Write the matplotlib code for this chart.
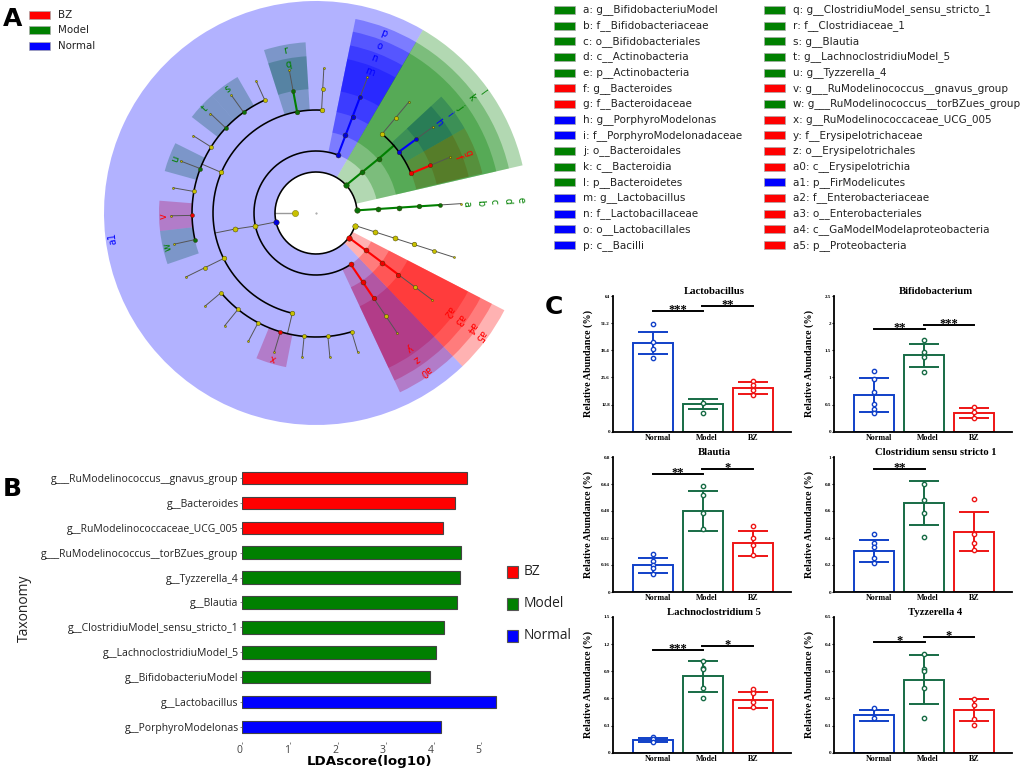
import numpy as np
import matplotlib
matplotlib.use("Agg")
import matplotlib.pyplot as plt
from matplotlib.patches import Rectangle

W, H = 1024, 771
RED, GREEN, BLUE = "#ff0000", "#008000", "#0000ff"
C_BLUE, C_GREEN, C_RED = "#1040c8", "#176b45", "#ee1515"
CLADE = {"r": RED, "g": GREEN, "b": BLUE}
NODE = {"r": "#ee0000", "g": "#0a700a", "b": "#0000dd", "y": "#c8c000"}

# panel A, legend
group_names = ["BZ", "Model", "Normal"]
group_colors = [RED, GREEN, BLUE]

taxon_labels_1 = ["a: g__BifidobacteriuModel", "b: f__Bifidobacteriaceae", "c: o__Bifidobacteriales",
                  "d: c__Actinobacteria", "e: p__Actinobacteria", "f: g__Bacteroides", "g: f__Bacteroidaceae",
                  "h: g__PorphyroModelonas", "i: f__PorphyroModelonadaceae", "j: o__Bacteroidales",
                  "k: c__Bacteroidia", "l: p__Bacteroidetes", "m: g__Lactobacillus", "n: f__Lactobacillaceae",
                  "o: o__Lactobacillales", "p: c__Bacilli"]
taxon_groups_1 = "gggggrrbbgggbbbb"
taxon_labels_2 = ["q: g__ClostridiuModel_sensu_stricto_1", "r: f__Clostridiaceae_1", "s: g__Blautia",
                  "t: g__LachnoclostridiuModel_5", "u: g__Tyzzerella_4", "v: g___RuModelinococcus__gnavus_group",
                  "w: g___RuModelinococcus__torBZues_group", "x: g__RuModelinococcaceae_UCG_005",
                  "y: f__Erysipelotrichaceae", "z: o__Erysipelotrichales", "a0: c__Erysipelotrichia",
                  "a1: p__FirModelicutes", "a2: f__Enterobacteriaceae", "a3: o__Enterobacteriales",
                  "a4: c__GaModelModelaproteobacteria", "a5: p__Proteobacteria"]
taxon_groups_2 = "gggggrgrrrrbrrrr"

# panel A, cladogram: radii by level, angles in degrees
node_radius = [41, 62, 83, 103, 124, 145]
band_inner = [41, 62, 82, 103, 124]
band_outer = [212, 198, 185, 171, 157]
node_px = [5.5, 5, 5, 4.7, 4, 2]

# start angle, end angle, clade, level
wedges = [(59.7, 313.7, "b", 0),
          (13, 59.7, "g", 0), (13, 59.7, "g", 1), (13, 59.7, "g", 2),
          (29.7, 42.9, "b", 3), (29.7, 42.9, "b", 4), (13.4, 29.7, "r", 3), (13.4, 29.7, "r", 4),
          (59.6, 78.5, "b", 1), (59.6, 78.5, "b", 2), (59.6, 78.5, "b", 3), (59.6, 78.5, "b", 4),
          (-46.3, -27.3, "r", 0), (-46.3, -27.3, "r", 1), (-46.3, -27.3, "r", 2), (-46.3, -27.3, "r", 3),
          (-64.9, -46.3, "r", 1), (-64.9, -46.3, "r", 2), (-64.9, -46.3, "r", 3),
          (93.5, 107.7, "g", 3), (93.5, 107.7, "g", 4),
          (120, 131.5, "g", 4), (131.5, 142.3, "g", 4), (153.6, 164.5, "g", 4),
          (175.5, 186.6, "r", 4), (186.6, 199, "g", 4), (247.7, 259, "r", 4)]

# radius, start angle, end angle
arcs = [(41, 3.7, 342.2), (62, 69.2, 304.1), (103, 22.6, 50.1), (103, 86.9, 256.7),
        (124, 114.4, 192.4), (124, 220, 286.7)]

# first level, angle or angles, clade code per level ("." is a joint with no node)
branches = [(0, 3.7, "gggggy"), (0, -17.8, "yyyyyy"), (0, -36.8, "rrrryy"), (1, -55.9, "rrryy"),
            (1, 69.2, "bbbby"), (0, [42.7, 41.5, 40.9, 40.9], "ggg."),
            (3, 50.1, "yyy"), (3, 36.4, "bby"), (3, 22.6, "rry"),
            (0, [192.6, 192.1, 191.2, 191.2], "byy."),
            (3, 100.6, "ggy"), (3, 86.9, "yyy"), (3, 206.2, "yyy"),
            (3, 156.8, "y."), (3, 256.7, "y."),
            (4, 114.4, "yy"), (4, 125.7, "gy"), (4, 136.7, "gy"), (4, 147.8, "yy"), (4, 159, "gy"),
            (4, 170, "yy"), (4, 181.1, "ry"), (4, 192.4, "gy"),
            (4, 220, "yy"), (4, 231, "yy"), (4, 242.2, "yy"), (4, 253.3, "ry"), (4, 264.5, "yy"),
            (4, 275.5, "yy"), (4, 286.7, "yy")]

clade_labels = ["a", "b", "c", "d", "e", "f", "g", "h", "i", "j", "k", "l", "m", "n", "o", "p", "q", "r",
                "s", "t", "u", "v", "w", "x", "y", "z", "a0", "a1", "a2", "a3", "a4", "a5"]
clade_label_groups = "gggggrrbbgggbbbbgggggrgrrrrbrrrr"
clade_label_theta = [3.6, 3.6, 3.6, 3.6, 3.6, 21.3, 21.4, 36.3, 36.3, 36.4, 36.6, 36.0, 69.2, 69.2, 69.2, 69.2,
                     100.6, 100.8, 125.6, 136.8, 159, 181.2, 193, 253.4, -55.3, -55.4, -55.3, 187,
                     -36.6, -36.7, -36.6, -36.8]
clade_label_r = [151, 165, 178, 192, 205, 153, 164, 152, 166, 179, 193, 206, 151, 165, 178, 192,
                 151, 165, 152, 152, 151, 152, 152, 151, 164, 177, 192, 205, 165, 178, 193, 205]

# panel B
lda_taxa = ["g___RuModelinococcus__gnavus_group", "g__Bacteroides", "g__RuModelinococcaceae_UCG_005",
            "g___RuModelinococcus__torBZues_group", "g__Tyzzerella_4", "g__Blautia",
            "g__ClostridiuModel_sensu_stricto_1", "g__LachnoclostridiuModel_5", "g__BifidobacteriuModel",
            "g__Lactobacillus", "g__PorphyroModelonas"]
lda_scores = [4.70, 4.45, 4.20, 4.58, 4.56, 4.49, 4.22, 4.04, 3.93, 5.30, 4.16]
lda_groups = "rrrggggggbb"

# panel C
abundance_groups = ["Normal", "Model", "BZ"]
abundance_titles = ["Lactobacillus", "Bifidobacterium", "Blautia", "Clostridium sensu stricto 1",
                    "Lachnoclostridium 5", "Tyzzerella 4"]
abundance_ticks = [["0", "12.8", "25.6", "38.4", "51.2", "64"], ["0", "0.5", "1", "1.5", "2", "2.5"],
                   ["0", "0.16", "0.32", "0.48", "0.64", "0.8"], ["0", "0.2", "0.4", "0.6", "0.8", "1"],
                   ["0", "0.3", "0.6", "0.9", "1.2", "1.5"], ["0", "0.1", "0.2", "0.3", "0.4", "0.5"]]
bar_tops = [[42.0, 13.05, 20.8], [0.68, 1.41, 0.344], [0.16, 0.482, 0.288],
            [0.306, 0.657, 0.447], [0.14, 0.844, 0.586], [0.138, 0.269, 0.157]]
err_low = [[36.6, 10.7, 17.8], [0.37, 1.2, 0.258], [0.1126, 0.361, 0.215],
           [0.22, 0.494, 0.301], [0.118, 0.667, 0.494], [0.115, 0.178, 0.117]]
err_high = [[47.2, 15.25, 23.3], [0.995, 1.615, 0.43], [0.203, 0.60, 0.36],
            [0.385, 0.822, 0.59], [0.158, 1.01, 0.675], [0.157, 0.36, 0.198]]
sample_points = [
    [[50.9, 42.5, 39.2, 34.9], [13.7, 9.0], [24, 22, 19.7, 17.3]],
    [[1.12, 0.965, 0.725, 0.51, 0.41, 0.35], [1.69, 1.46, 1.375, 1.105], [0.46, 0.37, 0.25]],
    [[0.225, 0.182, 0.16, 0.142, 0.105], [0.626, 0.577, 0.468, 0.373], [0.392, 0.32, 0.278, 0.221]],
    [[0.427, 0.365, 0.331, 0.254, 0.217], [0.802, 0.681, 0.587, 0.407], [0.687, 0.427, 0.36, 0.311]],
    [[0.177, 0.151, 0.122], [1.014, 0.933, 0.921, 0.711, 0.604], [0.704, 0.656, 0.56, 0.509]],
    [[0.163, 0.127], [0.364, 0.307, 0.302, 0.237, 0.127], [0.197, 0.176, 0.124, 0.102]],
]
# from bar, to bar, height, stars
sig_lines = [
    [(0, 1.01, 56.8, "***"), (0.99, 2, 59.4, "**")],
    [(0, 1.01, 1.886, "**"), (0.99, 2, 1.97, "***")],
    [(0, 1.01, 0.699, "**"), (0.99, 2, 0.731, "*")],
    [(0, 1.01, 0.911, "**")],
    [(0, 1.01, 1.13, "***"), (0.99, 2, 1.183, "*")],
    [(0, 1.01, 0.407, "*"), (0.99, 2, 0.425, "*")],
]


def px_rect(left, top, right, bottom):
    return [left / W, 1 - bottom / H, (right - left) / W, (bottom - top) / H]


def draw_cladogram(fig):
    ax = fig.add_axes(px_rect(103, 0, 529, 426), projection="polar")
    ax.set_ylim(0, 213)
    ax.axis("off")

    # deepest levels go down first, the phylum shading lies over them
    for t0, t1, code, level in sorted(wedges, key=lambda w: -w[3]):
        mid = np.radians(((t0 + t1) / 2) % 360)
        ax.bar(mid, band_outer[level] - band_inner[level], width=np.radians(t1 - t0),
               bottom=band_inner[level], color=CLADE[code], alpha=0.3, linewidth=0, zorder=1)

    for r, t0, t1 in arcs:
        ax.plot(np.radians(np.linspace(t0, t1, 200)), np.full(200, r), color="black", lw=1.15, zorder=3)

    # short stub pointing into the inner circle
    ax.plot(np.radians([180, 180]), [41, 21], color="#999999", lw=1.0, zorder=2)
    ax.plot(np.radians(180), 21, "o", ms=4.5, mfc=NODE["y"], mec="#666600", mew=0.3, zorder=4)
    ax.plot(0, 0, ".", ms=1, color="#999999")

    for first, thetas, codes in branches:
        thetas = np.broadcast_to(thetas, len(codes))
        for i in range(len(codes)):
            level = first + i
            if i + 1 < len(codes):
                xs = np.radians([thetas[i], thetas[i + 1]])
                ys = [node_radius[level], node_radius[level + 1]]
                nxt = codes[i + 1]
                if nxt in CLADE or (nxt == "." and codes[i] in CLADE and i > 0):
                    ax.plot(xs, ys, color=CLADE[codes[i] if nxt == "." else nxt], lw=1.5, zorder=2)
                else:
                    ax.plot(xs, ys, color="#555555", lw=0.7, zorder=2)
            if codes[i] != ".":
                ax.plot(np.radians(thetas[i]), node_radius[level], "o", ms=node_px[level] * 0.72,
                        mfc=NODE[codes[i]], mec="#333300", mew=0.3, zorder=4)

    for name, code, theta, r in zip(clade_labels, clade_label_groups, clade_label_theta, clade_label_r):
        ax.text(np.radians(theta), r, name, color=CLADE[code], fontsize=7, ha="center", va="center",
                rotation=theta - 90, rotation_mode="anchor", zorder=5)


def draw_overlay(fig):
    ax = fig.add_axes([0, 0, 1, 1], zorder=10)
    ax.set_xlim(0, W)
    ax.set_ylim(H, 0)
    ax.axis("off")

    for i, (name, color) in enumerate(zip(group_names, group_colors)):
        y = 15 + 15.3 * i
        ax.add_patch(Rectangle((28.5, y - 4), 21.5, 8, fc=color, ec="#aaaaaa", lw=0.5))
        ax.text(58, y, name, fontsize=7.4, va="center", color="#222222")

    for x_box, x_text, labels, groups in [(553.5, 583.3, taxon_labels_1, taxon_groups_1),
                                          (763.8, 793.3, taxon_labels_2, taxon_groups_2)]:
        for i, (label, code) in enumerate(zip(labels, groups)):
            y = 10 + 15.67 * i
            ax.add_patch(Rectangle((x_box, y - 4), 21, 8, fc=CLADE[code], ec="#aaaaaa", lw=0.5))
            ax.text(x_text, y, label, fontsize=7.5, va="center", color="#222222")

    for i, (name, color) in enumerate(zip(group_names, group_colors)):
        y = 571.7 + 32.1 * i
        ax.add_patch(Rectangle((507, y - 6), 11, 12, fc=color, ec="#555555", lw=0.8))
        ax.text(524, y, name, fontsize=9.9, family="Open Sans", va="center", color="#222222")

    for letter, x, y in [("A", 3, 19), ("B", 3, 488.5), ("C", 545, 306.5)]:
        ax.text(x, y, letter, fontsize=18, fontweight="bold", va="center", color="black")


def draw_lda(fig):
    ax = fig.add_axes(px_rect(242.4, 465, 505.3, 741.7))
    y = np.arange(len(lda_taxa))
    ax.barh(y, lda_scores, height=0.5, color=[CLADE[c] for c in lda_groups], edgecolor="#444444", linewidth=0.8)
    ax.set_xlim(0, 5.5)
    ax.set_ylim(10.59, -0.52)
    ax.set_yticks(y, lda_taxa, family="Open Sans", fontsize=7.5, color="#222222")
    ax.set_xticks(range(6), [str(v) for v in range(6)], family="Open Sans", fontsize=7.5, color="#444444")
    ax.tick_params(length=1.2, width=0.5, pad=1.5, color="#555555")
    for label in ax.get_xticklabels():
        label.set_ha("right")
    for spine in ax.spines.values():
        spine.set_visible(False)
    fig.text(369 / W, 1 - 761.7 / H, "LDAscore(log10)", fontsize=9.6, fontweight="bold", ha="center", va="center")
    fig.text(24 / W, 1 - 608 / H, "Taxonomy", fontsize=10, family="Open Sans", rotation=90,
             ha="center", va="center", color="#222222")


def draw_abundance(fig, index, rect):
    ax = fig.add_axes(px_rect(*rect))
    x = np.arange(3)
    colors = [C_BLUE, C_GREEN, C_RED]
    tops = np.array(bar_tops[index])
    ax.bar(x, tops, width=0.8, fc="none", edgecolor=colors, linewidth=1.4, zorder=2)
    for i, color in enumerate(colors):
        lower = [tops[i] - err_low[index][i]]
        upper = [err_high[index][i] - tops[i]]
        ax.errorbar(i, tops[i], yerr=[lower, upper], color=color, elinewidth=1.4, capsize=10.5,
                    capthick=1.4, zorder=3)
        pts = sample_points[index][i]
        ax.plot([i] * len(pts), pts, "o", ms=3.1, mfc="white", mec=color, mew=1.0, zorder=4)
    for x0, x1, height, stars in sig_lines[index]:
        ax.plot([x0, x1], [height, height], color="black", lw=1.4, zorder=5)
        ax.annotate(stars, ((x0 + x1) / 2, height), xytext=(0, -1.4), textcoords="offset points", ha="center",
                    va="baseline", fontsize=9, family="Liberation Serif", fontweight="bold")

    labels = abundance_ticks[index]
    ymax = float(labels[-1])
    ax.set_xlim(-0.805, 2.757)
    ax.set_ylim(0, ymax)
    ax.set_yticks(np.linspace(0, ymax, 6), labels, family="Liberation Serif", fontweight="bold", fontsize=3.6)
    ax.set_xticks(x + np.array([0.09, 0.07, 0]), abundance_groups, family="Liberation Serif",
                  fontweight="bold", fontsize=5.8)
    ax.tick_params(axis="x", length=0, pad=1.5)
    ax.tick_params(axis="y", length=1.5, width=0.8, pad=0.5)
    ax.set_ylabel("Relative Abundance (%)", family="Liberation Serif", fontweight="bold", fontsize=7.3)
    ax.yaxis.set_label_coords(-19.5 / 178, 0.5)
    ax.text(0.57, 1.032, abundance_titles[index], transform=ax.transAxes, ha="center", va="center",
            family="Liberation Serif", fontweight="bold", fontsize=7.7)
    ax.spines[["top", "right"]].set_visible(False)
    ax.spines[["left", "bottom"]].set_linewidth(1.3)


def main():
    fig = plt.figure(figsize=(W / 100, H / 100), dpi=100, facecolor="white")
    draw_cladogram(fig)
    draw_lda(fig)
    rows = [(296, 431.7), (457, 592), (617, 752.7)]
    cols = [(612.7, 790.7), (834, 1012)]
    for i in range(6):
        left, right = cols[i % 2]
        top, bottom = rows[i // 2]
        draw_abundance(fig, i, (left, top, right, bottom))
    draw_overlay(fig)
    fig.savefig("out.png", dpi=100)


if __name__ == "__main__":
    main()
